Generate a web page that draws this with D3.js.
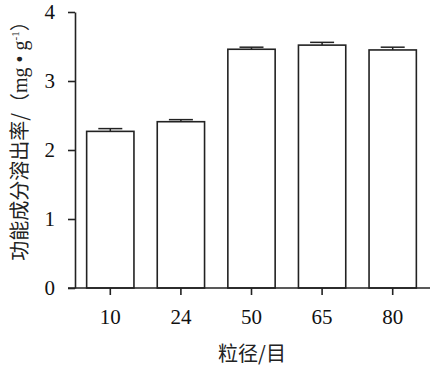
<!DOCTYPE html>
<html>
<head>
<meta charset="utf-8">
<script src="https://cdn.jsdelivr.net/npm/d3@7"></script>
<style>
  body { margin: 0; background: #fff; }
</style>
</head>
<body>
<div id="chart"></div>
<script>
var categories = ["10", "24", "50", "65", "80"];
var values = [2.27, 2.41, 3.46, 3.52, 3.45];
var errors = [0.04, 0.03, 0.03, 0.04, 0.04];
var yTicks = [0, 1, 2, 3, 4];

var width = 430,
    height = 367,
    margin = {top: 12, right: 2, bottom: 79, left: 75};

var svg = d3.select("#chart")
   .append("svg")
   .attr("width", width)
   .attr("height", height);

var x = d3.scaleBand()
   .domain(categories)
   .range([margin.left, margin.left + 353])
   .paddingInner(0.33)
   .paddingOuter(0.165);

var y = d3.scaleLinear()
   .domain([0, 4])
   .range([height - margin.bottom, margin.top]);

var g = svg.append("g");

// bars
g.selectAll("rect.bar")
   .data(values)
   .enter()
   .append("rect")
   .attr("class", "bar")
   .attr("x", function(d, i) { return x(categories[i]); })
   .attr("y", function(d) { return y(d); })
   .attr("width", x.bandwidth())
   .attr("height", function(d) { return y(0) - y(d); })
   .attr("fill", "#fff")
   .attr("stroke", "#222")
   .attr("stroke-width", 1.6);

// error bars (upper only)
var eb = g.selectAll("g.err")
   .data(values)
   .enter()
   .append("g")
   .attr("class", "err")
   .attr("stroke", "#222")
   .attr("stroke-width", 1.5);

eb.append("line")
   .attr("x1", function(d, i) { return x(categories[i]) + x.bandwidth() / 2; })
   .attr("x2", function(d, i) { return x(categories[i]) + x.bandwidth() / 2; })
   .attr("y1", function(d) { return y(d); })
   .attr("y2", function(d, i) { return y(d + errors[i]); });

eb.append("line")
   .attr("x1", function(d, i) { return x(categories[i]) + x.bandwidth() / 2 - 12; })
   .attr("x2", function(d, i) { return x(categories[i]) + x.bandwidth() / 2 + 12; })
   .attr("y1", function(d, i) { return y(d + errors[i]); })
   .attr("y2", function(d, i) { return y(d + errors[i]); });

// axes
var xAxis = svg.append("g")
   .attr("transform", "translate(0," + y(0) + ")")
   .call(d3.axisBottom(x).tickSize(7).tickSizeOuter(0).tickPadding(14));

xAxis.select(".domain").attr("d", "M" + (margin.left - 7) + ",0H" + width);

var yAxis = svg.append("g")
   .attr("transform", "translate(" + margin.left + ",0)")
   .call(d3.axisLeft(y).tickValues(yTicks).tickFormat(d3.format("d")).tickSize(7).tickSizeOuter(0).tickPadding(13));

svg.selectAll(".tick text")
   .attr("font-family", "'Liberation Serif', 'Times New Roman', serif")
   .attr("font-size", 21)
   .attr("fill", "#111");
xAxis.attr("font-family", "'Liberation Serif', serif");
yAxis.attr("font-family", "'Liberation Serif', serif");

svg.selectAll(".domain, .tick line").attr("stroke", "#222").attr("stroke-width", 1.6);

// axis titles
svg.append("text")
   .attr("x", 252)
   .attr("y", 361)
   .attr("text-anchor", "middle")
   .style("font-family", "'Noto Sans CJK SC', sans-serif")
   .style("font-size", "20px")
   .attr("fill", "#222")
   .text("粒径/目");

var yl = svg.append("text")
   .attr("transform", "translate(27,136) rotate(-90)")
   .attr("text-anchor", "middle")
   .style("font-family", "'Noto Sans CJK SC', sans-serif")
   .style("font-size", "20px")
   .attr("fill", "#222");

yl.append("tspan").text("功能成分溶出率/（");
yl.append("tspan").style("font-family", "'Liberation Serif', serif").text("mg • g");
yl.append("tspan").style("font-family", "'Liberation Serif', serif").style("font-size", "11px").attr("dy", -8).text("-1");
yl.append("tspan").attr("dy", 8).text("）");
</script>
</body>
</html>
